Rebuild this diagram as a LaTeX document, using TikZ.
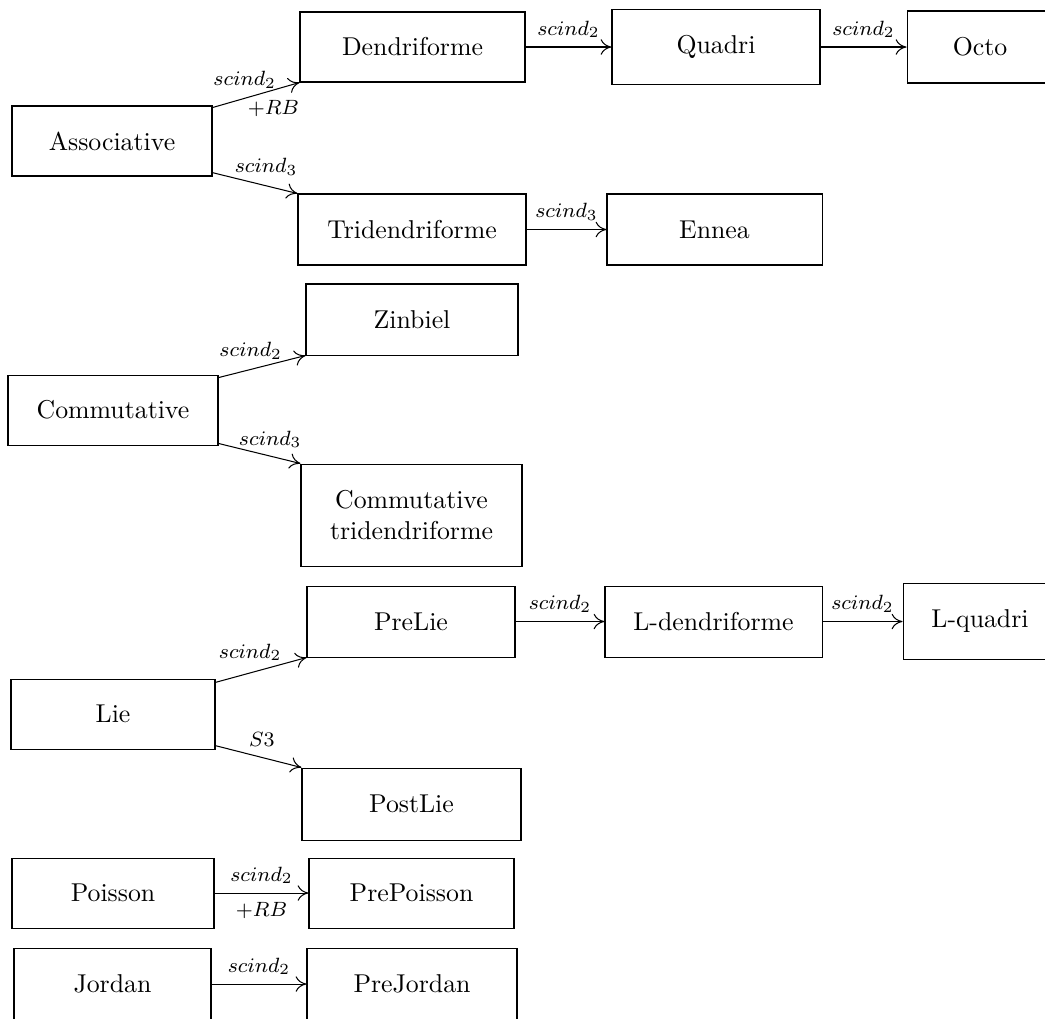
\documentclass[tikz,border=0pt]{standalone}
\usetikzlibrary{arrows.meta}
\newcommand\pxu{0.3876pt}
\begin{document}
\begin{tikzpicture}[x=\pxu, y=-\pxu,
  box/.style={draw, inner sep=0pt, align=center},
  sz/.style 2 args={minimum width=#1*\pxu, minimum height=#2*\pxu},
  arr/.style={-{Computer Modern Rightarrow[length=4.2pt, width=6pt]}},
  lab/.style={font=\footnotesize}]
\useasboundingbox (0,0) rectangle (1045,1018);
\clip (0,0) rectangle (1045,1018);
% row 1
\node[box, sz={200}{70}] (assoc) at (112,141) {Associative};
\node[box, sz={225}{70}] (dend) at (412.5,47) {Dendriforme};
\node[box, sz={208}{75}] (quadri) at (716,47) {Quadri};
\node[box, sz={146}{72}] (octo) at (980,47) {Octo};
\node[box, sz={228}{71}] (trid) at (412,229.5) {Tridendriforme};
\node[box, sz={215}{71}] (ennea) at (714.5,229.5) {Ennea};
% commutative
\node[box, sz={212}{71}] (zinb) at (412,319.5) {Zinbiel};
\node[box, sz={210}{70}] (comm) at (113,410) {Commutative};
\node[box, sz={221}{102}] (ctri) at (411.5,515) {Commutative\\tridendriforme};
% lie
\node[box, sz={208}{71}] (prelie) at (411,621.5) {PreLie};
\node[box, sz={217}{71}] (ldend) at (713.5,621.5) {L-dendriforme};
\node[box, sz={154}{76}] (lquad) at (980,621.5) {L-quadri};
\node[box, sz={204}{70}] (lie) at (113,714) {Lie};
\node[box, sz={219}{72}] (postlie) at (411.5,804) {PostLie};
% poisson, jordan
\node[box, sz={202}{70}] (poisson) at (113,893) {Poisson};
\node[box, sz={205}{70}] (prepoisson) at (411.5,893) {PrePoisson};
\node[box, sz={197}{72}] (jordan) at (112.5,984) {Jordan};
\node[box, sz={210}{72}] (prejordan) at (412,984) {PreJordan};
% connectors
\draw[arr] ([yshift=-0.8pt]assoc.north east) -- node[lab, pos=0.37, yshift=7.3pt]{$scind_2$} node[lab, pos=0.7, yshift=-7pt]{$+RB$} (dend.south west);
\draw[arr] ([yshift=1.5pt]assoc.south east) -- node[lab, pos=0.63, yshift=7.5pt]{$scind_3$} (trid.north west);
\draw[arr] (dend.east) -- node[lab, above]{$scind_2$} (quadri.west);
\draw[arr] (quadri.east) -- node[lab, above]{$scind_2$} (octo.west);
\draw[arr] (trid.east) -- node[lab, above]{$scind_3$} (ennea.west);
\draw[arr] ([yshift=-1.2pt]comm.north east) -- node[lab, pos=0.37, yshift=7.3pt]{$scind_2$} (zinb.south west);
\draw[arr] ([yshift=0.8pt]comm.south east) -- node[lab, pos=0.63, yshift=6.5pt]{$scind_3$} (ctri.north west);
\draw[arr] ([yshift=-1.5pt]lie.north east) -- node[lab, pos=0.38, yshift=8pt]{$scind_2$} (prelie.south west);
\draw[arr] ([yshift=1.5pt]lie.south east) -- node[lab, pos=0.54, yshift=6.8pt]{$S3$} (postlie.north west);
\draw[arr] (prelie.east) -- node[lab, above]{$scind_2$} (ldend.west);
\draw[arr] (ldend.east) -- node[lab, above]{$scind_2$} (lquad.west);
\draw[arr] (poisson.east) -- node[lab, above]{$scind_2$} node[lab, below]{$+RB$} (prepoisson.west);
\draw[arr] (jordan.east) -- node[lab, above]{$scind_2$} (prejordan.west);
\end{tikzpicture}
\end{document}
